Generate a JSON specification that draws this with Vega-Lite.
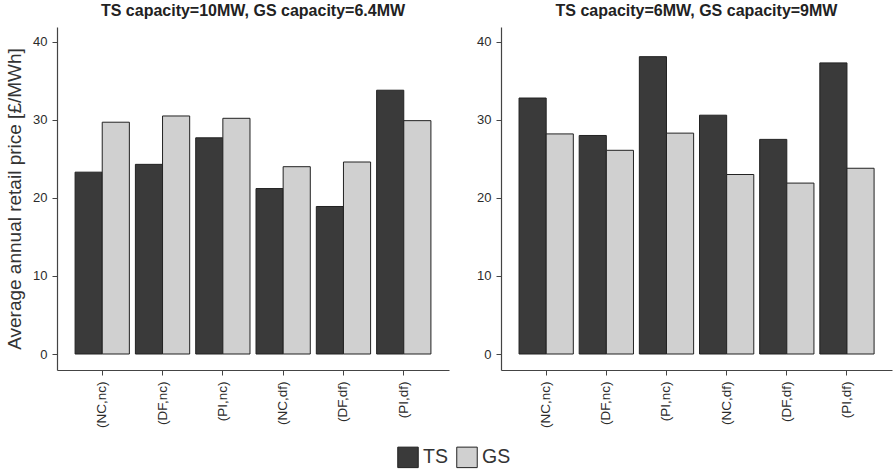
{
  "$schema": "https://vega.github.io/schema/vega-lite/v6.json",
  "background": "white",
  "padding": {"left": 5, "top": 3, "right": 1, "bottom": 3},
  "spacing": 27,
  "config": {
    "font": "Liberation Sans",
    "view": {"stroke": null},
    "axis": {"grid": false, "domainColor": "#444444", "tickColor": "#444444", "labelColor": "#2b2b2b", "labelFont": "Liberation Sans", "labelFontSize": 13, "domainWidth": 1.2, "tickSize": 5},
    "title": {"fontSize": 16, "fontWeight": "bold", "font": "Liberation Sans", "color": "#222222", "anchor": "middle", "offset": 8}
  },
  "data": {"values": [
    {"panel": "A", "scenario": "(NC,nc)", "tech": "TS", "price": 23.3},
    {"panel": "A", "scenario": "(NC,nc)", "tech": "GS", "price": 29.7},
    {"panel": "A", "scenario": "(DF,nc)", "tech": "TS", "price": 24.3},
    {"panel": "A", "scenario": "(DF,nc)", "tech": "GS", "price": 30.5},
    {"panel": "A", "scenario": "(PI,nc)", "tech": "TS", "price": 27.7},
    {"panel": "A", "scenario": "(PI,nc)", "tech": "GS", "price": 30.2},
    {"panel": "A", "scenario": "(NC,df)", "tech": "TS", "price": 21.2},
    {"panel": "A", "scenario": "(NC,df)", "tech": "GS", "price": 24.0},
    {"panel": "A", "scenario": "(DF,df)", "tech": "TS", "price": 18.9},
    {"panel": "A", "scenario": "(DF,df)", "tech": "GS", "price": 24.6},
    {"panel": "A", "scenario": "(PI,df)", "tech": "TS", "price": 33.8},
    {"panel": "A", "scenario": "(PI,df)", "tech": "GS", "price": 29.9},
    {"panel": "B", "scenario": "(NC,nc)", "tech": "TS", "price": 32.8},
    {"panel": "B", "scenario": "(NC,nc)", "tech": "GS", "price": 28.2},
    {"panel": "B", "scenario": "(DF,nc)", "tech": "TS", "price": 28.0},
    {"panel": "B", "scenario": "(DF,nc)", "tech": "GS", "price": 26.1},
    {"panel": "B", "scenario": "(PI,nc)", "tech": "TS", "price": 38.1},
    {"panel": "B", "scenario": "(PI,nc)", "tech": "GS", "price": 28.3},
    {"panel": "B", "scenario": "(NC,df)", "tech": "TS", "price": 30.6},
    {"panel": "B", "scenario": "(NC,df)", "tech": "GS", "price": 23.0},
    {"panel": "B", "scenario": "(DF,df)", "tech": "TS", "price": 27.5},
    {"panel": "B", "scenario": "(DF,df)", "tech": "GS", "price": 21.9},
    {"panel": "B", "scenario": "(PI,df)", "tech": "TS", "price": 37.3},
    {"panel": "B", "scenario": "(PI,df)", "tech": "GS", "price": 23.8}
  ]},
  "hconcat": [
    {
      "title": "TS capacity=10MW, GS capacity=6.4MW",
      "width": 392,
      "height": 343,
      "transform": [{"filter": "datum.panel === 'A'"}],
      "mark": {"type": "bar", "stroke": "#222222", "strokeWidth": 1},
      "encoding": {
        "x": {"field": "scenario", "type": "nominal", "sort": ["(NC,nc)", "(DF,nc)", "(PI,nc)", "(NC,df)", "(DF,df)", "(PI,df)"],
              "scale": {"paddingInner": 0.1, "paddingOuter": 0.3},
              "axis": {"title": null, "labelAngle": -90, "labelPadding": 6, "labelFontSize": 13.5}},
        "xOffset": {"field": "tech", "type": "nominal", "sort": ["TS", "GS"]},
        "y": {"field": "price", "type": "quantitative",
              "scale": {"domain": [-2.05, 41.9], "nice": false, "zero": false},
              "axis": {"values": [0, 10, 20, 30, 40], "title": "Average annual retail price [£/MWh]", "titleFontSize": 19, "titleFontWeight": "normal", "titleColor": "#333333", "titlePadding": 8, "labelPadding": 5}},
        "y2": {"datum": 0},
        "fill": {"field": "tech", "type": "nominal", "sort": ["TS", "GS"],
                 "scale": {"domain": ["TS", "GS"], "range": ["#3a3a3a", "#d0d0d0"]},
                 "legend": {"title": null, "orient": "none", "direction": "horizontal", "legendX": 340, "legendY": 419, "symbolType": "square", "symbolSize": 420, "symbolStrokeColor": "#222222", "symbolStrokeWidth": 1, "labelFontSize": 19.5, "labelColor": "#333333", "labelFont": "Liberation Sans", "columnPadding": 6, "labelOffset": 4}}
      }
    },
    {
      "title": "TS capacity=6MW, GS capacity=9MW",
      "width": 391,
      "height": 343,
      "transform": [{"filter": "datum.panel === 'B'"}],
      "mark": {"type": "bar", "stroke": "#222222", "strokeWidth": 1},
      "encoding": {
        "x": {"field": "scenario", "type": "nominal", "sort": ["(NC,nc)", "(DF,nc)", "(PI,nc)", "(NC,df)", "(DF,df)", "(PI,df)"],
              "scale": {"paddingInner": 0.1, "paddingOuter": 0.3},
              "axis": {"title": null, "labelAngle": -90, "labelPadding": 6, "labelFontSize": 13.5}},
        "xOffset": {"field": "tech", "type": "nominal", "sort": ["TS", "GS"]},
        "y": {"field": "price", "type": "quantitative",
              "scale": {"domain": [-2.05, 41.9], "nice": false, "zero": false},
              "axis": {"values": [0, 10, 20, 30, 40], "title": null, "labelPadding": 5}},
        "y2": {"datum": 0},
        "fill": {"field": "tech", "type": "nominal", "sort": ["TS", "GS"],
                 "scale": {"domain": ["TS", "GS"], "range": ["#3a3a3a", "#d0d0d0"]}}
      }
    }
  ]
}
